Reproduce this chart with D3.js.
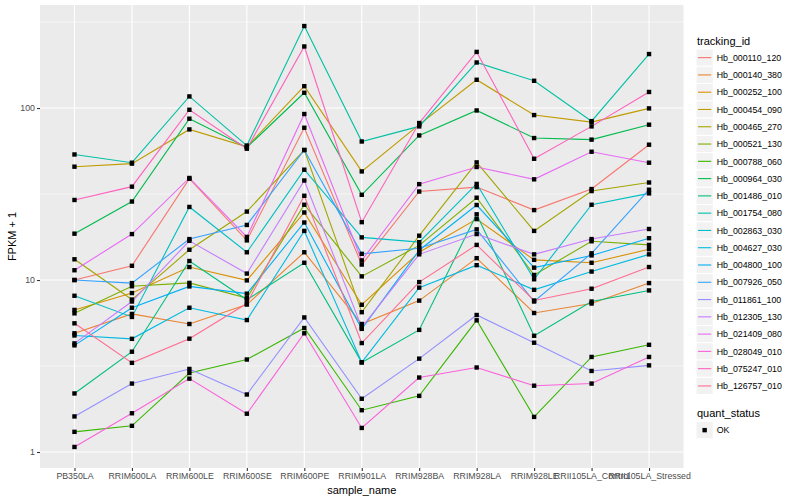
<!DOCTYPE html>
<html>
<head>
<meta charset="utf-8">
<script src="https://d3js.org/d3.v7.min.js"></script>
<style>
  body { margin: 0; background: #fff; }
  text { font-family: "Liberation Sans", Arial, sans-serif; }
</style>
</head>
<body>
<script>
// samples on the x axis
const samples = ['PB350LA', 'RRIM600LA', 'RRIM600LE', 'RRIM600SE', 'RRIM600PE', 'RRIM901LA',
  'RRIM928BA', 'RRIM928LA', 'RRIM928LE', 'RRII105LA_Control', 'RRII105LA_Stressed'];

const trackingIds = ['Hb_000110_120', 'Hb_000140_380', 'Hb_000252_100', 'Hb_000454_090', 'Hb_000465_270',
  'Hb_000521_130', 'Hb_000788_060', 'Hb_000964_030', 'Hb_001486_010', 'Hb_001754_080',
  'Hb_002863_030', 'Hb_004627_030', 'Hb_004800_100', 'Hb_007926_050', 'Hb_011861_100',
  'Hb_012305_130', 'Hb_021409_080', 'Hb_028049_010', 'Hb_075247_010', 'Hb_126757_010'];

// FPKM + 1, one array per gene, in sample order
const hb_000110_120 = [10.0, 12.1, 38.8, 17.0, 76.8, 12.3, 32.7, 34.7, 25.5, 33.8, 61.2];
const hb_000140_380 = [4.9, 6.35, 5.55, 7.2, 14.5, 5.55, 7.59, 13.4, 6.43, 7.3, 9.6];
const hb_000252_100 = [6.7, 8.4, 11.9, 9.95, 24.7, 7.18, 14.5, 22.6, 13.1, 12.6, 15.1];
const hb_000454_090 = [45.6, 47.5, 75.1, 59.5, 134, 42.8, 80, 146, 91, 82.8, 99.5];
const hb_000465_270 = [13.2, 7.7, 15.0, 25.0, 57, 6.5, 18.1, 48.3, 19.3, 32.9, 36.9];
const hb_000521_130 = [6.4, 9.2, 9.62, 7.85, 27.4, 10.5, 15.9, 30.1, 10.7, 16.8, 16.0];
const hb_000788_060 = [1.31, 1.42, 2.88, 3.45, 5.26, 1.75, 2.12, 5.83, 1.6, 3.57, 4.2];
const hb_000964_030 = [18.6, 28.6, 86.7, 59, 122.7, 31.3, 69.3, 96.8, 66.9, 65.5, 80];
const hb_001486_010 = [2.19, 3.83, 12.9, 7.68, 12.6, 3.32, 5.13, 24.1, 4.74, 7.5, 8.7];
const hb_001754_080 = [53.7, 48.1, 116.8, 60.5, 299.7, 63.9, 78.2, 184, 144, 83.9, 206];
const hb_002863_030 = [8.1, 6.1, 26.6, 14.5, 43.8, 17.7, 16.6, 36.2, 10.1, 27.4, 31.9];
const hb_004627_030 = [4.76, 4.55, 6.9, 5.85, 19.3, 3.32, 9.03, 12.2, 8.77, 11.2, 14.1];
const hb_004800_100 = [4.17, 6.9, 9.18, 8.33, 21.6, 5.2, 14.9, 27.3, 11.8, 13.9, 17.5];
const hb_007926_050 = [10.0, 9.6, 17.3, 20.9, 57, 14.2, 15.3, 19.7, 7.5, 14.3, 33.5];
const hb_011861_100 = [1.61, 2.5, 3.04, 2.16, 6.06, 2.04, 3.49, 6.26, 4.32, 2.96, 3.19];
const hb_012305_130 = [4.28, 7.5, 16.9, 10.9, 37.9, 5.3, 14.1, 18.5, 14.1, 17.3, 19.8];
const hb_021409_080 = [11.4, 18.5, 39.2, 17.8, 92.3, 13.0, 36.1, 45.4, 38.5, 55.7, 48.1];
const hb_028049_010 = [1.07, 1.68, 2.67, 1.67, 4.9, 1.38, 2.71, 3.1, 2.43, 2.5, 3.57];
const hb_075247_010 = [29.2, 34.9, 97.7, 58, 228, 21.7, 81.8, 212, 50.7, 78.2, 124];
const hb_126757_010 = [5.6, 3.3, 4.56, 7.3, 30.9, 4.3, 9.73, 16.0, 7.6, 8.9, 11.9];

const yTicks = [1, 10, 100];
const yMinor = [Math.sqrt(10), Math.sqrt(1000), Math.sqrt(100000)];

// ggplot default hue palette for 20 groups
const palette = ['#F8766D', '#EA8331', '#D89000', '#C09B00', '#A3A500', '#7CAE00', '#39B600', '#00BB4E',
  '#00BF7D', '#00C1A3', '#00BFC4', '#00BAE0', '#00B0F6', '#35A2FF', '#9590FF', '#C77CFF',
  '#E76BF3', '#FA62DB', '#FF62BC', '#FF6C91'];

const values = [hb_000110_120, hb_000140_380, hb_000252_100, hb_000454_090, hb_000465_270,
  hb_000521_130, hb_000788_060, hb_000964_030, hb_001486_010, hb_001754_080,
  hb_002863_030, hb_004627_030, hb_004800_100, hb_007926_050, hb_011861_100,
  hb_012305_130, hb_021409_080, hb_028049_010, hb_075247_010, hb_126757_010];

const series = trackingIds.map((id, i) => ({
  id: id,
  points: samples.map((s, j) => ({ sample: s, value: values[i][j] }))
}));

const width = 800, height = 500;
const panel = { left: 40, right: 683.5, top: 5, bottom: 468 };

const svg = d3.select('body')
  .append('svg')
  .attr('width', width)
  .attr('height', height);

const color = d3.scaleOrdinal().domain(trackingIds).range(palette);

const x = d3.scalePoint()
  .domain(samples)
  .range([panel.left, panel.right])
  .padding(0.6);

// log scale with ggplot's 5% expansion in log space
const all = values.flat();
const lo = Math.log10(d3.min(all)), hi = Math.log10(d3.max(all));
const pad = (hi - lo) * 0.05;
const y = d3.scaleLog()
  .domain([Math.pow(10, lo - pad), Math.pow(10, hi + pad)])
  .range([panel.bottom, panel.top]);

// panel background and grid
svg.append('rect')
  .attr('x', panel.left).attr('y', panel.top)
  .attr('width', panel.right - panel.left).attr('height', panel.bottom - panel.top)
  .attr('fill', '#EBEBEB');

svg.append('g').selectAll('line')
  .data(yMinor)
  .join('line')
  .attr('x1', panel.left).attr('x2', panel.right)
  .attr('y1', d => y(d)).attr('y2', d => y(d))
  .attr('stroke', '#fff').attr('stroke-width', 0.55);

svg.append('g').selectAll('line')
  .data(yTicks)
  .join('line')
  .attr('x1', panel.left).attr('x2', panel.right)
  .attr('y1', d => y(d)).attr('y2', d => y(d))
  .attr('stroke', '#fff').attr('stroke-width', 1.1);

svg.append('g').selectAll('line')
  .data(samples)
  .join('line')
  .attr('x1', d => x(d)).attr('x2', d => x(d))
  .attr('y1', panel.top).attr('y2', panel.bottom)
  .attr('stroke', '#fff').attr('stroke-width', 1.1);

// lines
const line = d3.line()
  .x(d => x(d.sample))
  .y(d => y(d.value));

svg.append('g').selectAll('path')
  .data(series)
  .join('path')
  .attr('d', d => line(d.points))
  .attr('fill', 'none')
  .attr('stroke', d => color(d.id))
  .attr('stroke-width', 1.1);

// points
svg.append('g').selectAll('rect')
  .data(series.flatMap(s => s.points))
  .join('rect')
  .attr('x', d => x(d.sample) - 2.2)
  .attr('y', d => y(d.value) - 2.2)
  .attr('width', 4.4)
  .attr('height', 4.4)
  .attr('fill', '#000');

// axes
const xAxis = svg.append('g')
  .attr('transform', `translate(0, ${panel.bottom})`)
  .call(d3.axisBottom(x).tickSize(3).tickPadding(2));

const yAxis = svg.append('g')
  .attr('transform', `translate(${panel.left}, 0)`)
  .call(d3.axisLeft(y).tickValues(yTicks).tickFormat(d3.format('d')).tickSize(3).tickPadding(2));

[xAxis, yAxis].forEach(g => {
  g.select('.domain').remove();
  g.selectAll('.tick line').attr('stroke', '#333').attr('stroke-width', 1.1);
  g.selectAll('.tick text').attr('fill', '#4D4D4D').attr('font-size', 8.8)
    .attr('font-family', '"Liberation Sans", Arial, sans-serif');
});

svg.append('text')
  .attr('x', (panel.left + panel.right) / 2)
  .attr('y', 494)
  .attr('text-anchor', 'middle')
  .attr('font-size', 11)
  .text('sample_name');

svg.append('text')
  .attr('transform', `translate(16, ${(panel.top + panel.bottom) / 2}) rotate(-90)`)
  .attr('text-anchor', 'middle')
  .attr('font-size', 11)
  .text('FPKM + 1');

// legend: tracking_id
const keySize = 17.28;
const legendX = 696;
const legend = svg.append('g');

legend.append('text')
  .attr('x', legendX + 1)
  .attr('y', 44.5)
  .attr('font-size', 11)
  .text('tracking_id');

const keys = legend.selectAll('.key')
  .data(trackingIds)
  .join('g')
  .attr('class', 'key')
  .attr('transform', (d, i) => `translate(${legendX}, ${49 + i * keySize})`);

keys.append('rect')
  .attr('width', keySize).attr('height', keySize)
  .attr('fill', '#F2F2F2').attr('stroke', '#fff');

keys.append('line')
  .attr('x1', 2).attr('x2', keySize - 2)
  .attr('y1', keySize / 2).attr('y2', keySize / 2)
  .attr('stroke', d => color(d)).attr('stroke-width', 1.1);

keys.append('text')
  .attr('x', keySize + 3.5)
  .attr('y', keySize / 2 + 3.2)
  .attr('font-size', 8.8)
  .text(d => d);

// legend: quant_status
legend.append('text')
  .attr('x', legendX + 1)
  .attr('y', 417)
  .attr('font-size', 11)
  .text('quant_status');

const ok = legend.append('g')
  .attr('transform', `translate(${legendX}, ${421.5})`);

ok.append('rect')
  .attr('width', keySize).attr('height', keySize)
  .attr('fill', '#F2F2F2').attr('stroke', '#fff');

ok.append('rect')
  .attr('x', keySize / 2 - 2.2).attr('y', keySize / 2 - 2.2)
  .attr('width', 4.4).attr('height', 4.4)
  .attr('fill', '#000');

ok.append('text')
  .attr('x', keySize + 3.5)
  .attr('y', keySize / 2 + 3.2)
  .attr('font-size', 8.8)
  .text('OK');
</script>
</body>
</html>
